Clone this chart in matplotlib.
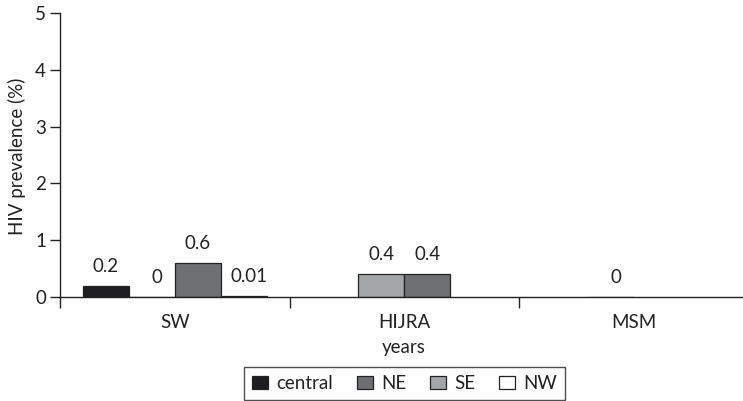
import matplotlib
matplotlib.use("Agg")
import matplotlib.pyplot as plt
import numpy as np

plt.rcParams['font.family'] = ['Lato', 'DejaVu Sans']

groups = ["SW", "HIJRA", "MSM"]
# series in drawing order within each group
series_draw = ["central", "SE", "NE", "NW"]
values = {
    "central": [0.2, None, None],
    "SE":      [0.0, 0.4, 0.0],
    "NE":      [0.6, 0.4, None],
    "NW":      [0.01, None, None],
}
labels = {
    "central": ["0.2", None, None],
    "SE":      ["0", "0.4", "0"],
    "NE":      ["0.6", "0.4", None],
    "NW":      ["0.01", None, None],
}
legend_order = ["central", "NE", "SE", "NW"]
colors = {"central": "#1d1d22", "NE": "#6e6f73", "SE": "#a3a6a9", "NW": "#ffffff"}
yticks = [0, 1, 2, 3, 4, 5]

FS = 13.5
W, H = 743, 401
fig = plt.figure(figsize=(W/100, H/100), dpi=100)
ax = fig.add_axes([60/W, (H-297)/H, (748.5-60)/W, (297-13)/H])

bw = 0.2
offsets = [-0.3, -0.1, 0.1, 0.3]
x = np.arange(len(groups))
handles = {}
for s, off in zip(series_draw, offsets):
    for i, v in enumerate(values[s]):
        if v is None:
            continue
        b = ax.bar(x[i] + off, v, bw, color=colors[s], edgecolor="#222222", linewidth=0.9)
        handles[s] = b
        lab = labels[s][i]
        if lab is not None:
            dx = 0 if v > 0.05 else 4
            ax.annotate(lab, (x[i] + off, v), xytext=(dx, 14), textcoords="offset points",
                        ha="center", va="center", fontsize=FS, color="#222222")

ax.set_xlim(-0.5, 2.5)
ax.set_ylim(0, 5)
ax.set_yticks(yticks)
ax.set_yticklabels([str(t) for t in yticks])
ax.set_xticks([-0.5, 0.5, 1.5])
ax.set_xticklabels([])
ax.set_xticks(x, minor=True)
ax.set_xticklabels(groups, minor=True)
ax.tick_params(axis="x", which="minor", length=0, pad=12, labelsize=FS, colors="#222222")
ax.tick_params(axis="x", which="major", length=8, width=1, color="#222222")
ax.tick_params(axis="y", length=7, width=1, labelsize=FS, colors="#222222", pad=3)
for sp in ["top", "right"]:
    ax.spines[sp].set_visible(False)
for sp in ["left", "bottom"]:
    ax.spines[sp].set_linewidth(1)
    ax.spines[sp].set_color("#222222")

fig.text(17/W, 1 - 156/H, "HIV prevalence (%)", rotation=90, ha="center", va="center",
         fontsize=FS, color="#222222")
fig.text(404/W, 1 - 347/H, "years", ha="center", va="center", fontsize=FS, color="#222222")

leg = fig.legend([handles[s] for s in legend_order], legend_order, ncol=4,
                 loc="center", bbox_to_anchor=(404.5/W, 1 - 383.5/H),
                 fontsize=FS, frameon=True, fancybox=False, edgecolor="#222222",
                 handlelength=0.85, handleheight=0.75, handletextpad=0.45, columnspacing=1.25,
                 borderpad=0.45, labelcolor="#222222")
leg.get_frame().set_linewidth(1)

fig.savefig("out.png", dpi=100)
